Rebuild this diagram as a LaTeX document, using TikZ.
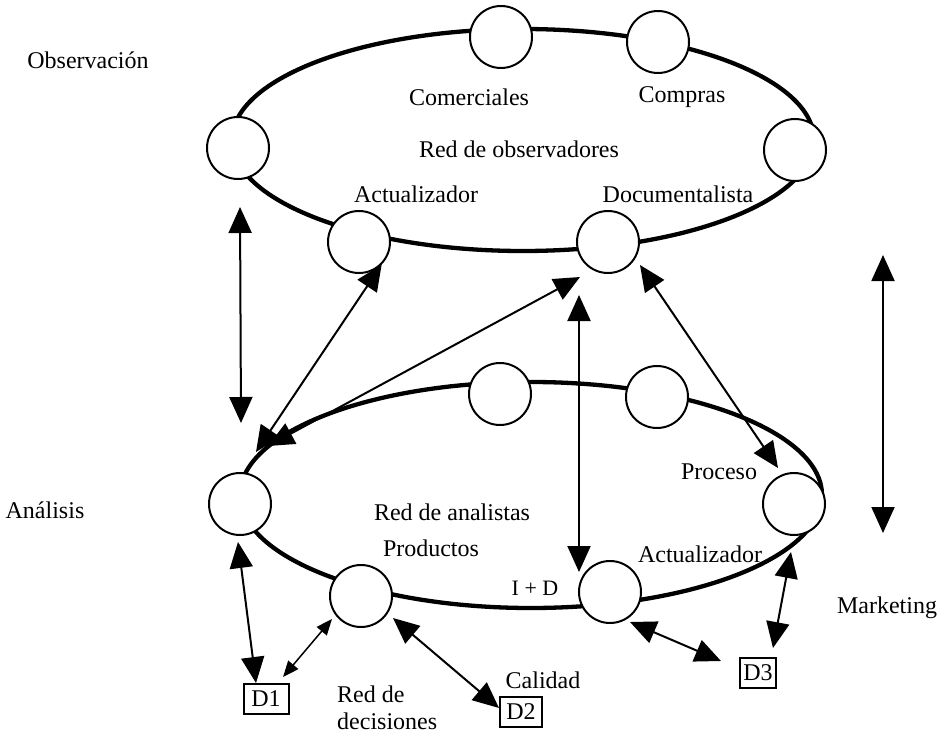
\documentclass[tikz,border=0pt]{standalone}
\usepackage{fontspec}
\setmainfont{Liberation Serif}
\usetikzlibrary{arrows.meta}
\begin{document}
\begin{tikzpicture}[x=1pt,y=-1pt,
  ring/.style={line width=4.3pt},
  station/.style={circle, draw, line width=2pt, fill=white, minimum size=62pt, inner sep=0pt},
  lbl/.style={font=\fontsize{24}{27}\selectfont, inner sep=0pt},
  dbox/.style={draw, line width=2pt, font=\fontsize{24}{27}\selectfont, inner sep=0pt, minimum height=30pt},
  link/.style={line width=2pt, {Triangle[length=26pt,width=23pt]}-{Triangle[length=26pt,width=23pt]}},
  thinlink/.style={line width=1.5pt, {Triangle[length=16pt,width=13pt]}-{Triangle[length=16pt,width=13pt]}},
]
\useasboundingbox (0,0) rectangle (941,735);

% the two networks
\draw[ring] (523,140) ellipse [x radius=291pt, y radius=111pt];
\draw[ring] (531,495) ellipse [x radius=291pt, y radius=113pt];

% observers
\node[station] (obsL)   at (238,148) {};
\node[station] (obsCom) at (501,37)  {};
\node[station] (obsCmp) at (658,42)  {};
\node[station] (obsR)   at (795,150) {};
\node[station] (obsAct) at (359,242) {};
\node[station] (obsDoc) at (608,242) {};

% analysts
\node[station] (anaL)    at (240,504) {};
\node[station] (anaT1)   at (500,394) {};
\node[station] (anaT2)   at (657,397) {};
\node[station] (anaR)    at (794,504) {};
\node[station] (anaProd) at (361,596) {};
\node[station] (anaID)   at (610,592) {};

% decision boxes
\node[dbox, minimum width=45pt] (d1) at (266,699) {D1};
\node[dbox, minimum width=42pt] (d2) at (521,712) {D2};
\node[dbox, minimum width=36pt] (d3) at (758,673) {D3};

% labels
\node[lbl] (tObs)  at (88,60)   {Observación};
\node[lbl] (tAna)  at (45,510)  {Análisis};
\node[lbl] (tMkt)  at (887,608) {Marketing};
\node[lbl] (tCom)  at (469,97)  {Comerciales};
\node[lbl] (tCmp)  at (682,97)  {Compras};
\node[lbl] (tRobs) at (519,149) {Red de observadores};
\node[lbl] (tAct1) at (416,194) {Actualizador};
\node[lbl] (tDoc)  at (678,194) {Documentalista};
\node[lbl] (tProc) at (719,472) {Proceso};
\node[lbl] (tRana) at (452,512) {Red de analistas};
\node[lbl] (tProd) at (431,548) {Productos};
\node[lbl, font=\fontsize{22}{26}\selectfont] (tID) at (535,588) {I + D};
\node[lbl] (tAct2) at (700,554) {Actualizador};
\node[lbl] (tCal)  at (543,680) {Calidad};
\node[lbl, align=left, anchor=north west] (tRdec) at (337,686) {Red de\\decisiones};

% connector ends
\coordinate (lvTop) at (240,207);
\coordinate (lvBot) at (241,423);
\coordinate (hubA)  at (256,452);
\coordinate (hubB)  at (268,446);
\coordinate (docIn) at (580,277);
\coordinate (idTop) at (579,295);
\coordinate (idBot) at (579,572);
\coordinate (docOut) at (640,265);
\coordinate (procIn) at (778,468);
\coordinate (rvTop) at (883,255);
\coordinate (rvBot) at (883,533);
\coordinate (lOut)  at (238,542);
\coordinate (d1In)  at (256,683);
\coordinate (d1Side) at (283,677);
\coordinate (prodIn) at (332,619);
\coordinate (prodOut) at (393,618);
\coordinate (d2In)  at (499,708);
\coordinate (idOut) at (630,622);
\coordinate (d3Side) at (721,661);
\coordinate (rOut)  at (791,552);
\coordinate (d3Top) at (773,648);

% connectors
\draw[link] (lvTop) -- (lvBot);
\draw[link] (hubA) -- (obsAct.-45);
\draw[link] (hubB) -- (docIn);
\draw[link] (idTop) -- (idBot);
\draw[link] (docOut) -- (procIn);
\draw[link] (rvTop) -- (rvBot);
\draw[link] (lOut) -- (d1In);
\draw[thinlink] (d1Side) -- (prodIn);
\draw[link] (prodOut) -- (d2In);
\draw[link] (idOut) -- (d3Side);
\draw[link] (rOut) -- (d3Top);
\end{tikzpicture}
\end{document}
